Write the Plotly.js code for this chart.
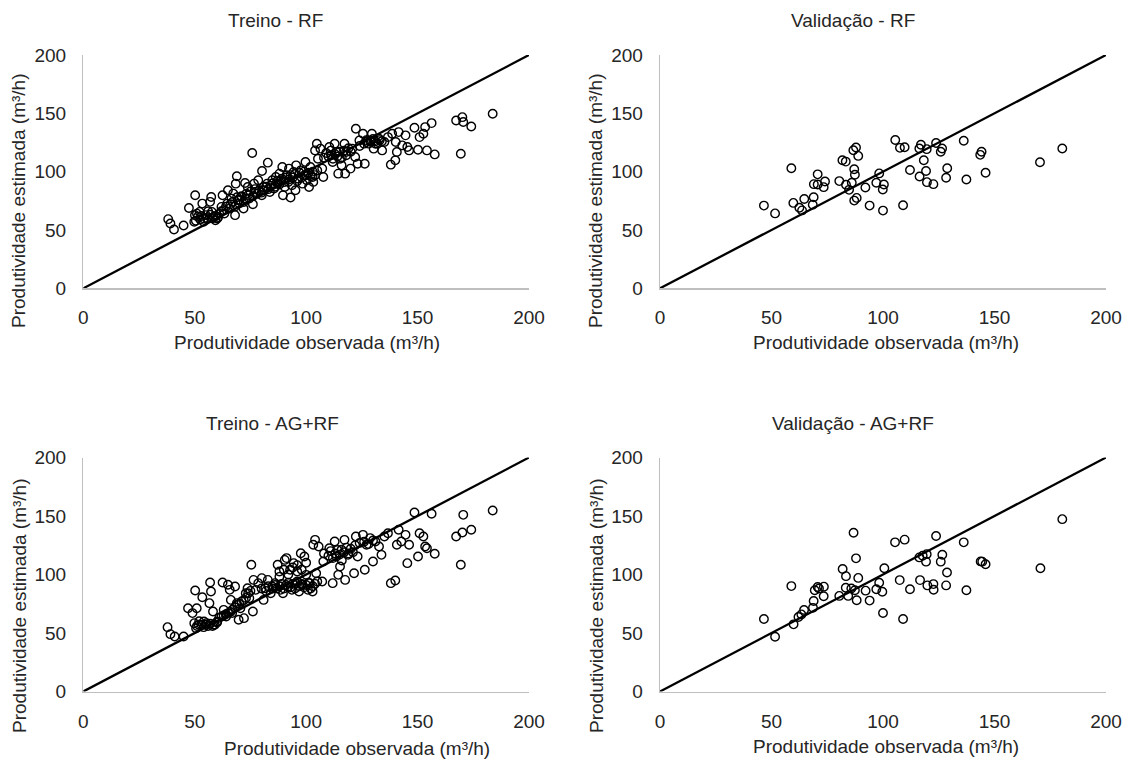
<!DOCTYPE html>
<html>
<head>
<meta charset="utf-8">
<script src="https://cdn.plot.ly/plotly-3.0.1.min.js"></script>
<style>html,body{margin:0;padding:0;background:#fff;}#chart{width:1132px;height:762px;}</style>
</head>
<body>
<div id="chart"></div>
<script>
// ---------- DATA ----------
const tickVals = [0, 50, 100, 150, 200];
const panelTitles = ["Treino - RF", "Validação - RF", "Treino - AG+RF", "Validação - AG+RF"];
const xTitle = "Produtividade observada (m³/h)";
const yTitle = "Produtividade estimada (m³/h)";

// Treino - RF (observed, estimated)
const trainRF_obs = [38.1,39.1,40.7,45.0,47.4,50.2,50.1,49.8,51.4,52.2,53.4,54.1,55.0,56.9,57.4,57.7,58.5,59.3,60.1,62.5,62.0,63.3,64.6,64.9,65.7,66.5,67.3,68.1,68.4,68.9,69.4,70.0,71.0,71.9,72.6,73.2,73.8,74.5,75.8,76.1,76.6,77.4,78.5,80.1,80.9,80.2,82.8,82.5,83.7,84.8,85.6,86.4,87.2,88.0,88.8,89.3,89.6,90.4,91.2,92.0,92.3,93.0,93.6,94.4,95.2,95.5,96.5,97.6,98.4,99.2,99.7,100.3,101.3,101.9,102.9,103.2,104.0,104.8,105.3,106.4,107.7,107.2,110.4,111.2,111.9,112.8,113.6,114.4,115.2,115.9,117.2,117.5,117.9,119.9,120.7,122.3,122.0,123.1,123.9,125.5,126.3,127.1,128.7,129.5,130.3,131.1,132.7,134.1,135.1,136.7,138.0,138.6,140.0,140.2,140.7,141.5,143.1,144.6,145.4,146.2,148.6,150.2,150.9,152.6,153.4,154.2,156.3,157.7,167.3,170.1,170.5,169.4,174.1,183.7,
  50.5,51,52.5,53,54,55.5,56,57,58,59.5,60.5,61,62,63,64,
  66,67,68,69,70,71,72,73,74,75,76,77,78,79,80,
  81,82,83,84,85,86,87,88,89,90,91,92,93,94,95,96,97,98,99,100,101,102,103,104,105,
  108,109,110,111,112,113,114,115,116,117,118,119,120,
  124,126,127,128,129,130,131,132,133,134];
const trainRF_est = [59.3,55.6,50.4,53.8,68.9,79.8,62.7,57.0,61.3,65.5,72.6,59.8,62.7,74.1,78.3,65.5,61.3,58.4,59.8,79.8,69.8,64.1,72.6,84.0,68.4,76.9,81.2,62.7,89.7,96.0,75.5,72.6,78.3,68.4,90.3,81.2,86.9,76.9,116.0,72.1,89.7,82.6,92.6,79.8,86.9,100.6,107.7,89.7,82.6,92.6,85.5,95.4,89.7,98.3,92.6,104.0,79.8,86.9,96.9,91.2,102.6,77.8,88.3,99.7,84.0,105.4,94.0,101.1,89.7,96.9,108.3,92.6,86.9,104.0,95.4,91.2,118.2,123.9,111.1,119.7,95.4,102.6,121.1,114.0,108.3,123.9,116.8,98.3,111.1,105.4,123.9,98.3,116.8,102.6,119.7,136.8,112.5,106.8,126.8,132.5,106.8,125.4,126.8,132.5,119.7,123.9,128.2,118.2,125.4,129.6,106.0,132.5,109.7,125.4,116.8,133.9,122.5,131.1,121.1,118.2,137.6,118.8,129.6,132.5,138.2,118.2,141.6,114.8,143.9,146.7,142.5,115.4,138.7,149.6,
  58,64,59,62,57,60,66,63,60,62,61,64,66,67,70,
  72,74,70,78,76,79,74,77,80,83,79,85,81,84,82,
  84,87,85,88,90,87,92,89,94,91,95,93,97,95,98,92,99,95,100,97,99,96,100,97,101,
  112,116,113,118,111,115,113,117,112,118,114,120,117,
  122,124,127,124,126,128,126,124,127,126];

// Validação - RF
const valRF_obs = [46.6,51.6,58.9,59.8,62.5,63.7,64.7,68.5,68.9,70.7,69.0,70.7,73.4,74.0,80.4,81.8,83.3,83.4,84.8,86.0,86.7,87.9,88.9,87.1,87.4,87.1,88.2,92.1,94.0,97.0,98.3,100.4,99.9,100.0,105.5,107.6,109.7,109.0,112.1,116.3,117.0,119.6,118.3,119.3,116.4,119.7,122.6,123.8,126.5,125.9,128.8,128.3,136.2,137.4,144.2,143.6,146.0,170.4,180.4];
const valRF_est = [70.9,64.2,102.9,73.2,69.1,66.8,76.6,71.7,78.1,97.7,89.3,89.0,86.7,91.6,91.9,109.8,108.6,88.8,84.4,90.5,118.4,120.7,113.5,102.0,97.4,75.2,77.5,86.4,70.9,90.5,98.5,89.0,84.7,66.6,127.1,120.4,120.9,71.2,101.4,119.9,123.0,119.3,109.8,100.5,95.9,91.0,89.3,124.5,119.9,117.0,102.9,94.8,126.5,93.3,117.0,114.4,99.1,108.0,119.9];

// Treino - AG+RF
const trainAG_obs = [37.8,39.1,41.0,45.0,47.0,49.0,50.2,50.9,49.8,50.6,51.8,53.4,54.1,55.3,56.9,57.3,56.6,58.2,58.5,60.1,62.5,63.0,64.1,64.9,65.7,66.2,66.8,68.1,68.9,69.7,70.5,72.1,72.9,73.7,74.5,75.4,76.1,76.4,77.4,78.5,80.1,80.9,81.7,82.8,84.1,84.8,86.0,87.2,88.0,88.5,89.6,90.4,91.2,92.0,92.8,93.6,94.4,95.2,96.0,96.8,97.6,98.4,99.2,100.0,100.8,101.6,102.9,103.2,104.0,104.5,105.6,107.2,107.7,110.4,111.9,112.8,113.6,114.4,115.2,115.9,117.2,117.5,118.8,121.5,122.3,123.1,125.5,126.3,127.1,128.7,130.0,131.1,132.7,133.8,135.1,136.7,138.0,140.0,140.7,141.5,142.7,144.6,145.4,146.2,148.6,150.2,150.9,152.6,153.4,154.2,156.3,157.7,167.3,169.4,170.5,170.1,174.1,183.7,
  51,52,53,54,55,56,57,58,59,60,
  61,62,63,64,65,66,67,68,69,70,71,72,73,74,75,
  80,82,83,85,86,87,88,89,90,91,92,93,94,95,96,97,98,99,100,101,102,103,104,105,
  88,90,92,94,96,98,100,
  108,110,111,112,113,114,115,116,117,118,119,120,121,122,124,126,128,130];
const trainAG_est = [55.0,49.0,47.0,47.0,71.2,67.0,86.3,71.2,58.4,54.1,57.0,80.6,59.8,58.4,93.2,85.5,75.5,68.4,57.0,59.8,93.2,69.8,64.1,91.2,86.9,78.3,67.0,89.7,75.5,61.3,71.2,62.7,84.0,88.3,79.8,108.3,68.4,95.4,86.9,92.6,96.9,78.3,88.3,95.4,84.0,89.7,92.6,108.3,102.6,86.9,84.0,112.5,114.0,89.7,104.0,86.9,109.7,92.6,102.6,85.5,118.2,91.2,115.4,99.7,86.9,92.6,85.5,125.4,129.6,101.1,123.9,94.0,111.1,122.5,92.6,128.2,115.4,99.7,106.8,121.1,129.6,95.4,116.8,101.1,132.5,115.4,133.9,104.0,125.4,131.1,111.1,128.2,123.9,116.8,132.5,135.3,92.6,94.9,125.4,138.2,128.2,133.9,109.7,125.4,153.0,115.4,135.3,132.5,123.9,122.5,151.9,117.7,132.5,108.3,151.0,135.9,138.2,154.7,
  56,60,57,55,57,56,58,56,57,59,
  63,64,65,66,67,68,70,72,74,75,77,78,80,84,86,
  88,86,90,88,91,88,90,92,88,91,93,89,92,88,94,90,92,89,91,93,88,90,92,94,
  98,104,100,106,108,104,110,
  118,116,120,114,118,121,117,112,119,123,118,122,119,125,127,128,126,129];

// Validação - AG+RF
const valAG_obs = [46.6,51.6,58.9,59.9,62.1,63.4,64.6,68.6,68.9,69.4,70.7,71.3,73.5,73.4,80.4,81.9,83.4,83.3,84.4,85.8,87.4,86.8,87.9,88.9,88.2,92.2,94.0,97.0,98.3,99.7,100.6,100.0,105.4,109.7,107.5,109.0,112.1,116.3,117.8,119.6,119.3,116.6,119.9,122.6,122.7,123.8,126.6,125.9,128.7,128.3,136.2,137.4,143.8,144.5,146.0,170.6,180.4];
const valAG_est = [62.0,46.8,90.1,57.4,63.7,65.9,69.6,71.5,77.4,86.5,89.3,88.0,89.6,81.4,81.7,104.7,98.6,88.7,81.7,88.0,86.5,135.7,113.8,97.1,78.0,86.2,77.7,87.4,92.9,85.3,105.3,67.1,127.5,129.8,95.2,62.0,87.4,114.6,116.0,117.4,111.0,95.2,90.7,91.8,87.0,132.9,116.9,111.0,101.7,90.7,127.5,86.5,111.2,111.0,108.7,105.3,147.3];

const diagX = [0, 200];
const diagY = [0, 200];

// ---------- CHART ----------
const W = 1132, H = 762;
const px = v => v / W;
const py = v => 1 - v / H;

const panels = [
  {obs: trainRF_obs, est: trainRF_est, xa: 'x',  ya: 'y'},
  {obs: valRF_obs,   est: valRF_est,   xa: 'x2', ya: 'y2'},
  {obs: trainAG_obs, est: trainAG_est, xa: 'x3', ya: 'y3'},
  {obs: valAG_obs,   est: valAG_est,   xa: 'x4', ya: 'y4'}
];

const traces = [];
panels.forEach(p => {
  traces.push({x: diagX, y: diagY, xaxis: p.xa, yaxis: p.ya, mode: 'lines',
    line: {color: '#000000', width: 2.3}, hoverinfo: 'skip', showlegend: false});
  traces.push({x: p.obs, y: p.est, xaxis: p.xa, yaxis: p.ya, mode: 'markers', type: 'scatter',
    marker: {symbol: 'circle-open', size: 8.5, color: '#000000', line: {width: 1.4, color: '#000000'}},
    cliponaxis: false, showlegend: false});
});

const fontFam = 'Liberation Sans, Arial, sans-serif';
const textCol = '#262626';

function xAxis(domain, anchor) {
  return {domain: domain, anchor: anchor, range: [0, 200], tickvals: tickVals, ticktext: tickVals.map(String),
    showgrid: false, zeroline: false, showline: true, linecolor: '#bfbfbf', linewidth: 1.3,
    ticks: '', ticklabelstandoff: 12, tickfont: {family: fontFam, size: 19, color: textCol}, fixedrange: true};
}
function yAxis(domain, anchor) {
  return {domain: domain, anchor: anchor, range: [0, 200], tickvals: tickVals, ticktext: tickVals.map(String),
    showgrid: false, zeroline: false, showline: true, linecolor: '#bfbfbf', linewidth: 1.3,
    ticks: '', ticklabelstandoff: 12, tickfont: {family: fontFam, size: 19, color: textCol}, fixedrange: true};
}

const xL = [px(83.3), px(529)], xR = [px(660), px(1106)];
const yT = [py(288.3), py(55)], yB = [py(691.5), py(457.5)];

const ann = (text, x, y, rot) => ({text: text, xref: 'paper', yref: 'paper', x: px(x), y: py(y),
  xanchor: 'center', yanchor: 'middle', showarrow: false, textangle: rot || 0,
  font: {family: fontFam, size: 19, color: textCol}});

const annotations = [
  ann(panelTitles[0], 275, 20), ann(panelTitles[1], 853, 20),
  ann(panelTitles[2], 272, 423), ann(panelTitles[3], 853, 423),
  ann(xTitle, 307, 342), ann(xTitle, 886, 342),
  ann(xTitle, 357, 748), ann(xTitle, 886, 746),
  ann(yTitle, 19, 201, -90), ann(yTitle, 596, 201, -90),
  ann(yTitle, 19, 606, -90), ann(yTitle, 596, 606, -90)
];

const layout = {
  width: W, height: H, margin: {l: 0, r: 0, t: 0, b: 0},
  paper_bgcolor: '#ffffff', plot_bgcolor: '#ffffff', showlegend: false,
  xaxis: xAxis(xL, 'y'), yaxis: yAxis(yT, 'x'),
  xaxis2: xAxis(xR, 'y2'), yaxis2: yAxis(yT, 'x2'),
  xaxis3: xAxis(xL, 'y3'), yaxis3: yAxis(yB, 'x3'),
  xaxis4: xAxis(xR, 'y4'), yaxis4: yAxis(yB, 'x4'),
  annotations: annotations
};

Plotly.newPlot('chart', traces, layout, {displayModeBar: false, staticPlot: true});
</script>
</body>
</html>
